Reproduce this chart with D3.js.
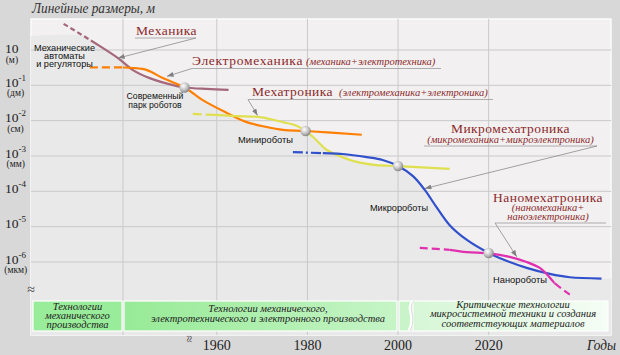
<!DOCTYPE html>
<html><head><meta charset="utf-8">
<script src="https://cdn.jsdelivr.net/npm/d3@7"></script>
<style>body{margin:0;background:#d8d8d8;} svg{display:block} .sf{font-family:"Liberation Serif","DejaVu Serif",serif;} .ss{font-family:"Liberation Sans","DejaVu Sans",sans-serif;}</style>
</head><body><svg id="c" width="620" height="355"></svg>
<script>
// ---------- DATA ----------
const yearTicks = [1960, 1980, 2000, 2020];
const gridYears = [1939.3, 1960, 1980, 2000, 2020];
const decadeTicks = [1, 1e-1, 1e-2, 1e-3, 1e-4, 1e-5, 1e-6];
const tickSup = ["", "-1", "-2", "-3", "-4", "-5", "-6"];
const tickUnits = ["(м)", "(дм)", "(см)", "(мм)", "", "", "(мкм)"];

const mechanics = [[1926.2,5.5],[1933.1,1.58],[1938.2,0.59],[1941.5,0.27],[1945.2,0.16],[1951.2,0.095],[1952.9,0.087],[1957.8,0.079],[1962.6,0.074]];
const electromechanics = [[1932.0,0.32],[1939.3,0.32],[1941.5,0.31],[1944.6,0.27],[1948.1,0.16],[1952.9,0.087],[1956.9,0.038],[1962.2,0.0166],[1966.6,0.0091],[1971.0,0.0066],[1974.6,0.0055],[1979.6,0.0051],[1992.0,0.0040]];
const mechatronics = [[1954.7,0.0155],[1959.6,0.0145],[1964.4,0.0135],[1969.5,0.0126],[1974.6,0.0091],[1977.7,0.0071],[1979.6,0.0051],[1981.2,0.0035],[1984.3,0.00148],[1986.5,0.00107],[1990.9,0.00068],[1995.3,0.00055],[2000,0.00052],[2011.4,0.00043]];
const micromechatronics = [[1976.8,0.00129],[1983.4,0.00120],[1987.8,0.00114],[1993.1,0.00093],[1996.6,0.00077],[2000,0.00052],[2003.3,0.00027],[2005.9,0.00011],[2008.6,3.4e-5],[2011.4,1.1e-5],[2015.2,4.2e-6],[2020,1.8e-6],[2022.4,1.3e-6],[2028.4,6.8e-7],[2033.5,4.6e-7],[2037.9,3.7e-7],[2044.9,3.4e-7]];
const nanomechatronics = [[2004.8,2.5e-6],[2011.4,2.2e-6],[2015.2,1.9e-6],[2020,1.75e-6],[2024.6,1.4e-6],[2028.4,1.0e-6],[2031.3,6.8e-7],[2033.0,4.3e-7],[2034.6,2.5e-7],[2037.9,1.2e-7]];
const milestones = [[1952.9,0.087],[1979.6,0.0051],[2000,0.00052],[2020,1.8e-6]];

const robotLabels = ["Современный\nпарк роботов", "Минироботы", "Микророботы", "Нанороботы"];
const earlyLabel = "Механические\nавтоматы\nи регуляторы";
const fieldNames = ["Механика", "Электромеханика", "Мехатроника", "Микромехатроника", "Наномехатроника"];
const fieldNotes = ["", "(механика+электротехника)", "(электромеханика+электроника)", "(микромеханика+микроэлектроника)", "(наномеханика+\nнаноэлектроника)"];
const fieldTips = [[1938.2,0.59],[1949.0,0.18],[1969.0,0.014],[2005.9,1.2e-4],[2026.2,1.4e-6]];
const bandTexts = ["Технологии\nмеханического\nпроизводства", "Технологии механического,\nэлектротехнического и электронного производства", "Критические  технологии\nмикросистемной техники и создания\nсоответствующих материалов"];

// ---------- SETUP ----------
const svg = d3.select("#c");
const L = 31, R = 611, T = 19, B = 335;
const x = d3.scaleLinear().domain([1919, 2047]).range([L, R]);
const y = d3.scaleLog().domain([1, 1e-6]).range([50, 262]);
const red = "#8b2a2a";

// helpers: fit a text (or its widest line) to a width measured on the reference
function fitSize(textSel, target){
  const nodes = textSel.selectAll("tspan").nodes();
  const els = nodes.length ? nodes : [textSel.node()];
  const w = d3.max(els, n => n.getComputedTextLength());
  const fs = +textSel.attr("font-size");
  if (w > 0) textSel.attr("font-size", (fs*target/w).toFixed(2));
  return textSel;
}
// keep the glyph height, squeeze horizontally to the measured width
function squeeze(textSel, target){
  const nodes = textSel.selectAll("tspan").nodes();
  const els = nodes.length ? nodes : [textSel.node()];
  const ws = els.map(n => n.getComputedTextLength());
  const f = target / d3.max(ws);
  if (f >= 1) return textSel;
  els.forEach((n,k) => { n.setAttribute("textLength", (ws[k]*f).toFixed(1)); n.setAttribute("lengthAdjust","spacingAndGlyphs"); });
  return textSel;
}
function fitSpacing(textSel, target){
  const n = textSel.node();
  const w = n.getComputedTextLength();
  const cnt = n.textContent.length;
  textSel.attr("letter-spacing", ((target - w)/cnt).toFixed(2));
  return textSel;
}

const defs = svg.append("defs");
const rg = defs.append("radialGradient").attr("id","ball").attr("cx","38%").attr("cy","35%").attr("r","65%");
rg.append("stop").attr("offset","0%").attr("stop-color","#ffffff");
rg.append("stop").attr("offset","55%").attr("stop-color","#c8c8c8");
rg.append("stop").attr("offset","100%").attr("stop-color","#8a8a8a");
function lg(id, c0, c1){
  const g = defs.append("linearGradient").attr("id",id).attr("x1","0").attr("x2","1").attr("y1","0").attr("y2","0");
  g.append("stop").attr("offset","0%").attr("stop-color",c0);
  g.append("stop").attr("offset","100%").attr("stop-color",c1);
}
lg("g2","#97ea97","#c6f4c6");
lg("g3","#d6f6d6","#f5fdf5");
defs.append("marker").attr("id","arr").attr("viewBox","0 0 8 6").attr("refX",8).attr("refY",3)
  .attr("markerWidth",7).attr("markerHeight",5).attr("orient","auto").attr("markerUnits","userSpaceOnUse")
  .append("path").attr("d","M0,0 L8,3 L0,6 z").attr("fill","#808080");

// plot background
svg.append("rect").attr("x",L).attr("y",T).attr("width",R-L).attr("height",B-T)
  .attr("fill","#f3f0f1").attr("stroke","#fbfbfb").attr("stroke-width",1.5);

// shaded region under the envelope of the curves
const env = [[1919,2.5],[1931,2.5]]
  .concat(mechanics.filter(d=>d[0]>=1933.1 && d[0]<=1952.9))
  .concat(electromechanics.filter(d=>d[0]>1952.9 && d[0]<=1979.6))
  .concat(mechatronics.filter(d=>d[0]>1979.6 && d[0]<=2000))
  .concat(micromechatronics.filter(d=>d[0]>2000))
  .concat([[2047,3.4e-7]]);
svg.append("path").datum(env)
  .attr("d", d3.area().x(d=>x(d[0])).y0(B).y1(d=>y(d[1])).curve(d3.curveCatmullRom))
  .attr("fill","#e9e9e9");

// grid
svg.append("g").selectAll("line").data(decadeTicks).join("line")
  .attr("x1",L).attr("x2",R).attr("y1",d=>y(d)).attr("y2",d=>y(d))
  .attr("stroke","#c9c9c9").attr("stroke-width",1);
svg.append("g").selectAll("line").data(gridYears).join("line")
  .attr("x1",d=>x(d)).attr("x2",d=>x(d)).attr("y1",T).attr("y2",B)
  .attr("stroke","#c9c9c9").attr("stroke-width",1);

// ---------- BAND ----------
const bY0 = 301, bY1 = 331;
const boxes = [[33,122,"#99ec99"],[124,397,"url(#g2)"],[399,411,"#c9f4c9"],[413,608,"url(#g3)"]];
svg.append("g").selectAll("rect").data(boxes).join("rect")
  .attr("x",d=>d[0]).attr("y",bY0).attr("width",d=>d[1]-d[0]).attr("height",bY1-bY0)
  .attr("fill",d=>d[2]).attr("stroke","#ffffff").attr("stroke-width",1.2);
svg.append("path").attr("d",`M413,${bY0} C405,${bY0+8} 417,${bY0+14} 409,${bY1}`)
  .attr("fill","none").attr("stroke","#ffffff").attr("stroke-width",3);
svg.append("path").attr("d",`M414,${bY0} C406,${bY0+8} 418,${bY0+14} 410,${bY1}`)
  .attr("fill","none").attr("stroke","#cfcfcf").attr("stroke-width",0.8);
const bandCenters = [[77.5,309.5,9,66],[268,312,10,237],[513,307.7,9.5,170]];
bandTexts.forEach((t,i)=>{
  const [cx,by,lh,tw] = bandCenters[i];
  const tx = svg.append("text").attr("class","sf").attr("text-anchor","middle")
    .attr("font-style","italic").attr("font-size",10.5).attr("fill","#222");
  t.split("\n").forEach((ln,j)=> tx.append("tspan").attr("x",cx).attr("y",by+j*lh).text(ln));
  squeeze(tx, tw);
});

// ---------- CURVES ----------
const line = d3.line().x(d=>x(d[0])).y(d=>y(d[1])).curve(d3.curveCatmullRom);
const seriesDefs = [
  {data: mechanics, color:"#a5677a", dashUntil:1933.1, dash:"5,3"},
  {data: electromechanics, color:"#ff7f00", dashUntil:1939.3, dash:"8,4"},
  {data: mechatronics, color:"#dfe050", dashUntil:1959.6, dash:"9,4"},
  {data: micromechatronics, color:"#3050cc", dashUntil:1983.4, dash:"10,3,2,3"},
  {data: nanomechatronics, color:"#e030b0", dashUntil:2011.4, dashFrom:2034.6, dash:"8,4"}
];
seriesDefs.forEach((s,i)=>{
  const segs = [[1900, s.dashUntil, s.dash],[s.dashUntil, s.dashFrom||2100, null]];
  if (s.dashFrom) segs.push([s.dashFrom, 2100, s.dash]);
  segs.forEach((sg,j)=>{
    const id = `cl${i}_${j}`;
    defs.append("clipPath").attr("id",id).append("rect")
      .attr("x",x(sg[0])).attr("y",0).attr("width",x(sg[1])-x(sg[0])).attr("height",355);
    svg.append("path").datum(s.data).attr("d",line).attr("fill","none")
      .attr("stroke",s.color).attr("stroke-width",2.2)
      .attr("stroke-dasharray",sg[2]).attr("clip-path",`url(#${id})`);
  });
});
svg.append("g").selectAll("circle").data(milestones).join("circle")
  .attr("cx",d=>x(d[0])).attr("cy",d=>y(d[1])).attr("r",5.2).attr("fill","url(#ball)");

// ---------- LABELS ----------
function multi(text, cx, by, lh, size, cls, anchor, fill, italic){
  const t = svg.append("text").attr("class",cls).attr("text-anchor",anchor)
    .attr("font-size",size).attr("fill",fill);
  if (italic) t.attr("font-style","italic");
  text.split("\n").forEach((ln,j)=> t.append("tspan").attr("x",cx).attr("y",by+j*lh).text(ln));
  return t;
}
fitSize(multi(earlyLabel, 64.5, 50.5, 8.4, 9.6, "ss", "middle", "#111"), 61);
const robotPos = [[155,98.5],[265.5,142.7],[399,211],[520,283]];
const robotW = [57, 55, 58, 54];
robotLabels.forEach((t,i)=> fitSize(multi(t, robotPos[i][0], robotPos[i][1], 9, 9.6, "ss", "middle", "#111"), robotW[i]));

// field annotations
const leaderFrom = [[196,38],[192,68.5],[248,99.5],[597,146],[495,223]];
const underlines = [[135,196,38],[192,441,68.5],[248,493,99.5],[424,597,146],[495,606,223]];
svg.append("g").selectAll("line").data(underlines).join("line")
  .attr("x1",d=>d[0]).attr("x2",d=>d[1]).attr("y1",d=>d[2]).attr("y2",d=>d[2])
  .attr("stroke","#9a9a9a").attr("stroke-width",0.8);
svg.append("g").selectAll("line").data(fieldTips).join("line")
  .attr("x1",(d,i)=>leaderFrom[i][0]).attr("y1",(d,i)=>leaderFrom[i][1])
  .attr("x2",d=>x(d[0])).attr("y2",d=>y(d[1]))
  .attr("stroke","#8c8c8c").attr("stroke-width",0.8).attr("marker-end","url(#arr)");

const titlePos = [[136,35,"start",61],[192,65,"start",111],[252,96,"start",81],[510.5,133,"middle",119],[548,202,"middle",110]];
fieldNames.forEach((nm,i)=>{
  const [tx,ty,anc,tw] = titlePos[i];
  const t = svg.append("text").attr("class","sf").attr("x",tx).attr("y",ty).attr("text-anchor",anc)
    .attr("font-size",13.5).attr("fill",red).text(nm);
  fitSpacing(t, tw);
});
const notePos = [null,[306,65,"start",135],[339,96,"start",154],[510.5,143.3,"middle",173],[548,211,"middle",84]];
fieldNotes.forEach((nt,i)=>{
  if (!notePos[i]) return;
  const [tx,ty,anc,tw] = notePos[i];
  squeeze(multi(nt, tx, ty, 9, 10.5, "sf", anc, red, true), tw);
});

// ---------- AXES ----------
squeeze(svg.append("text").attr("class","sf").attr("x",32).attr("y",12.5).attr("font-style","italic")
  .attr("font-size",14).attr("fill","#333").text("Линейные размеры, м"), 123);
decadeTicks.forEach((d,i)=>{
  const gy = y(d) + (tickSup[i] ? 1.5 : 3);
  const t = svg.append("text").attr("class","sf").attr("x",5).attr("y",gy)
    .attr("font-size",13.5).attr("fill","#222").text("10");
  if (tickSup[i]) t.append("tspan").attr("font-size",9).attr("dy",-6).text(tickSup[i]);
  const bb = t.node().getBBox();
  if (tickUnits[i]) svg.append("text").attr("class","sf").attr("x",bb.x+bb.width/2).attr("y",y(d)+(tickSup[i]?11:13))
    .attr("text-anchor","middle").attr("font-size",9.5).attr("fill","#222")
    .text(tickUnits[i]);
});
svg.append("text").attr("class","sf").attr("x",31).attr("y",294).attr("text-anchor","middle")
  .attr("font-size",14).attr("fill","#444").text("≈");
svg.append("text").attr("class","sf").attr("transform","translate(185,339) rotate(90)").attr("text-anchor","middle")
  .attr("font-size",13).attr("fill","#444").text("≈");
svg.append("g").selectAll("text").data(yearTicks).join("text").attr("class","sf")
  .attr("x",d=>x(d)).attr("y",350).attr("text-anchor","middle")
  .attr("font-size",14).attr("fill","#222").text(d=>d);
squeeze(svg.append("text").attr("class","sf").attr("x",587).attr("y",350).attr("font-style","italic")
  .attr("font-size",14).attr("fill","#222").text("Годы"), 29);
</script></body></html>
